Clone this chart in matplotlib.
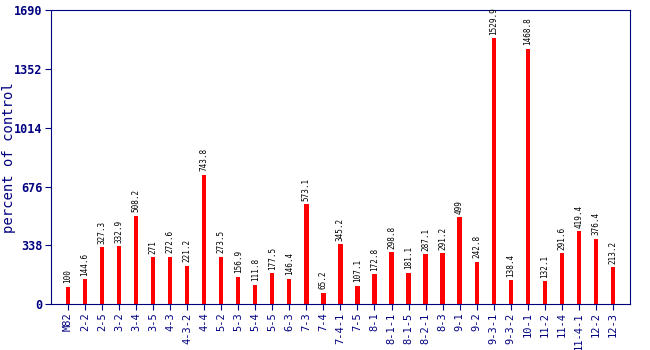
import matplotlib
matplotlib.use("Agg")
import matplotlib.pyplot as plt
import numpy as np

# sample names and response values (percent of control)
samples = ["M82", "2-2", "2-5", "3-2", "3-4", "3-5", "4-3", "4-3-2", "4-4", "5-2",
           "5-3", "5-4", "5-5", "6-3", "7-3", "7-4", "7-4-1", "7-5", "8-1", "8-1-1",
           "8-1-5", "8-2-1", "8-3", "9-1", "9-2", "9-3-1", "9-3-2", "10-1", "11-2",
           "11-4", "11-4-1", "12-2", "12-3"]
values = [100, 144.6, 327.3, 332.9, 508.2, 271, 272.6, 221.2, 743.8, 273.5,
          156.9, 111.8, 177.5, 146.4, 573.1, 65.2, 345.2, 107.1, 172.8, 298.8,
          181.1, 287.1, 291.2, 499, 242.8, 1529.9, 138.4, 1468.8, 132.1,
          291.6, 419.4, 376.4, 213.2]
yticks = [0, 338, 676, 1014, 1352, 1690]

navy = "#000080"
fig = plt.figure(figsize=(6.5, 3.5), dpi=100)
ax = fig.add_axes([0.0785, 0.131, 0.8905, 0.84])

x = np.arange(len(samples))
ax.bar(x, values, width=0.25, color="red")

for xi, v in zip(x, values):
    ax.text(xi, v + 20, f"{v:g}", rotation=90, ha="center", va="bottom",
            fontsize=5.5, family="DejaVu Sans Mono")

ax.set_xlim(-1, len(samples))
ax.set_ylim(0, 1690)
ax.set_yticks(yticks)
ax.set_yticklabels([str(t) for t in yticks], fontsize=8.5,
                   family="DejaVu Sans Mono", fontweight="bold")
ax.set_xticks(x)
ax.set_xticklabels(samples, rotation=90, fontsize=7.5,
                   family="DejaVu Sans Mono")
ax.tick_params(axis="both", colors=navy, length=4, pad=2)
for lbl in ax.get_xticklabels() + ax.get_yticklabels():
    lbl.set_color(navy)
ax.set_ylabel("percent of control", color=navy, fontsize=10,
              family="DejaVu Sans Mono")
ax.yaxis.set_label_coords(-0.06, 0.5)
for sp in ax.spines.values():
    sp.set_color(navy)

fig.savefig("out.png", dpi=100)
